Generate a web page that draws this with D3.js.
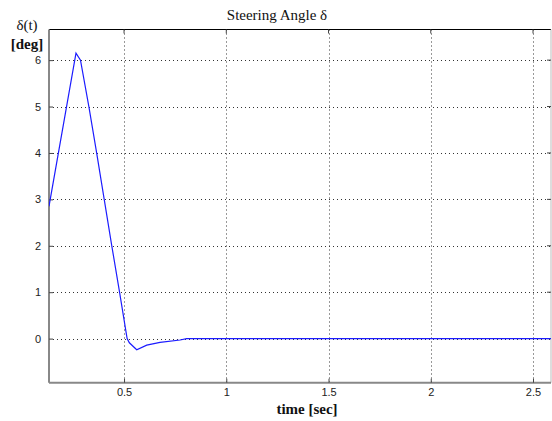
<!DOCTYPE html>
<html>
<head>
<meta charset="utf-8">
<script src="https://cdn.jsdelivr.net/npm/d3@7"></script>
<style>
  html, body { margin: 0; padding: 0; background: #fff; }
  svg { display: block; }
</style>
</head>
<body>
<svg id="chart" width="552" height="421"></svg>
<script>
// Steering angle response over time
const timeSec = [0.133, 0.265, 0.287, 0.328, 0.366, 0.403, 0.440, 0.478, 0.515, 0.526, 0.562, 0.611, 0.676, 0.774, 0.806, 1.0, 1.5, 2.0, 2.6];
const angleDeg = [2.85, 6.15, 6.0, 5.0, 4.0, 3.0, 2.0, 1.0, 0.0, -0.09, -0.24, -0.14, -0.08, -0.03, 0.0, 0.0, 0.0, 0.0, 0.0];
const xTicks = [0.5, 1, 1.5, 2, 2.5];
const xTickLabels = ["0.5", "1", "1.5", "2", "2.5"];
const yTicks = [0, 1, 2, 3, 4, 5, 6];
const yTickLabels = ["0", "1", "2", "3", "4", "5", "6"];
const titleText = "Steering Angle δ";
const xLabelText = "time [sec]";
const yLabelLines = ["δ(t)", "[deg]"];

const svg = d3.select("#chart");
const m = { left: 49, right: 551, top: 29.5, bottom: 382.7 };

const x = d3.scaleLinear().domain([0.133, 2.588]).range([m.left, m.right]);
const y = d3.scaleLinear().domain([-0.95, 6.66]).range([m.bottom, m.top]);

svg.append("clipPath").attr("id", "plotclip")
  .append("rect")
  .attr("x", m.left).attr("y", m.top)
  .attr("width", m.right - m.left).attr("height", m.bottom - m.top);

// dotted grid
const grid = svg.append("g");
grid.selectAll("line.vx").data(xTicks).join("line")
  .attr("x1", d => Math.round(x(d)) + 0.5).attr("x2", d => Math.round(x(d)) + 0.5)
  .attr("y1", m.top).attr("y2", m.bottom)
  .attr("stroke", "#333").attr("stroke-width", 1).attr("stroke-dasharray", "1,3");
grid.selectAll("line.hy").data(yTicks).join("line")
  .attr("y1", d => Math.round(y(d)) + 0.5).attr("y2", d => Math.round(y(d)) + 0.5)
  .attr("x1", m.left).attr("x2", m.right)
  .attr("stroke", "#333").attr("stroke-width", 1).attr("stroke-dasharray", "1,3");

// frame: top black, right light, left/bottom gray axes
svg.append("line").attr("x1", m.left).attr("x2", m.right).attr("y1", m.top).attr("y2", m.top)
  .attr("stroke", "#000").attr("stroke-width", 1.2);
svg.append("line").attr("x1", m.right).attr("x2", m.right).attr("y1", m.top).attr("y2", m.bottom)
  .attr("stroke", "#bbb").attr("stroke-width", 1);

// bottom axis
const xAxis = d3.axisBottom(x).tickValues(xTicks)
  .tickFormat((d, i) => xTickLabels[i]).tickSize(-4).tickPadding(6);
const gx = svg.append("g").attr("transform", `translate(0,${m.bottom})`).call(xAxis);
gx.select(".domain").attr("stroke", "#888").attr("stroke-width", 2).attr("d", `M${m.left},0H${m.right}`);
gx.selectAll(".tick line").attr("stroke", "#444");
gx.selectAll("text").attr("font-family", "Liberation Sans, Arial, sans-serif")
  .attr("font-size", 11).attr("fill", "#222");

// left axis
const yAxis = d3.axisLeft(y).tickValues(yTicks)
  .tickFormat((d, i) => yTickLabels[i]).tickSize(-4).tickPadding(8);
const gy = svg.append("g").attr("transform", `translate(${m.left},0)`).call(yAxis);
gy.select(".domain").attr("stroke", "#888").attr("stroke-width", 2).attr("d", `M0,${m.top}V${m.bottom}`);
gy.selectAll(".tick line").attr("stroke", "#444");
gy.selectAll("text").attr("font-family", "Liberation Sans, Arial, sans-serif")
  .attr("font-size", 11).attr("fill", "#222");

// inward ticks along top and right edges
svg.append("g").selectAll("line").data(xTicks).join("line")
  .attr("x1", d => x(d)).attr("x2", d => x(d)).attr("y1", m.top).attr("y2", m.top + 4)
  .attr("stroke", "#444");
svg.append("g").selectAll("line").data(yTicks).join("line")
  .attr("x1", m.right - 4).attr("x2", m.right).attr("y1", d => y(d)).attr("y2", d => y(d))
  .attr("stroke", "#444");

// response curve
const line = d3.line().x((d, i) => x(timeSec[i])).y(d => y(d));
svg.append("path").datum(angleDeg)
  .attr("clip-path", "url(#plotclip)")
  .attr("d", line)
  .attr("fill", "none").attr("stroke", "#1c1cff").attr("stroke-width", 1.2);

// titles and labels
const serif = "Liberation Serif, Times New Roman, serif";
svg.append("text").attr("x", 277).attr("y", 20).attr("text-anchor", "middle")
  .attr("font-family", serif).attr("font-size", 15).attr("fill", "#111").text(titleText);
svg.append("text").attr("x", 307).attr("y", 414).attr("text-anchor", "middle")
  .attr("font-family", serif).attr("font-size", 15).attr("font-weight", "bold").attr("fill", "#111").text(xLabelText);
svg.append("text").attr("x", 27).attr("y", 30).attr("text-anchor", "middle")
  .attr("font-family", serif).attr("font-size", 15).attr("fill", "#111").text(yLabelLines[0]);
svg.append("text").attr("x", 27).attr("y", 49).attr("text-anchor", "middle")
  .attr("font-family", serif).attr("font-size", 15).attr("font-weight", "bold").attr("fill", "#111").text(yLabelLines[1]);
</script>
</body>
</html>
